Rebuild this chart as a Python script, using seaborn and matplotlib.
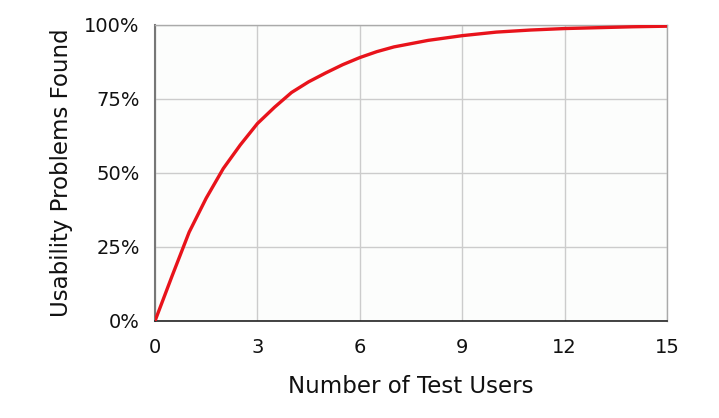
import matplotlib
matplotlib.use("Agg")
import matplotlib.pyplot as plt
import seaborn as sns
import pandas as pd
from matplotlib.ticker import PercentFormatter

# share of usability problems found vs number of test users
users = [0, 0.5, 1, 1.5, 2, 2.5, 3, 3.5, 4, 4.5, 5, 5.5, 6, 6.5,
         7, 8, 9, 10, 11, 12, 13, 14, 15]
found = [0.0, 0.152, 0.30, 0.415, 0.515, 0.595, 0.667, 0.722, 0.772, 0.808,
         0.838, 0.866, 0.890, 0.910, 0.926, 0.948, 0.964, 0.976, 0.983,
         0.988, 0.991, 0.994, 0.996]
x_ticks = [0, 3, 6, 9, 12, 15]
y_ticks = [0, 0.25, 0.5, 0.75, 1.0]

df = pd.DataFrame({"users": users, "found": found})

sns.set_style("white")
plt.rcParams["font.family"] = ["DejaVu Sans"]

fig = plt.figure(figsize=(7.19, 4.18), dpi=100)
ax = fig.add_axes([155/719, 1-321/418, (667-155)/719, (321-25)/418])
ax.set_facecolor("#fcfdfc")

sns.lineplot(data=df, x="users", y="found", color="#e8131b", linewidth=2.4, ax=ax, zorder=3)

ax.set_xlim(0, 15)
ax.set_ylim(0, 1)
ax.set_xticks(x_ticks)
ax.set_yticks(y_ticks)
ax.yaxis.set_major_formatter(PercentFormatter(1.0, decimals=0))
ax.grid(True, color="#cccccc", linewidth=1)

for side in ["top", "right"]:
    ax.spines[side].set_color("#aaaaaa")
    ax.spines[side].set_linewidth(1)
ax.spines["left"].set_color("#777777")
ax.spines["left"].set_linewidth(1.5)
ax.spines["bottom"].set_color("#222222")
ax.spines["bottom"].set_linewidth(1.2)

ax.tick_params(axis="x", direction="inout", length=9, width=1, colors="#222222",
               labelsize=14, labelcolor="#111111", pad=8)
ax.tick_params(axis="y", direction="out", length=6, width=1, colors="#777777",
               labelsize=14, labelcolor="#111111", pad=5)

ax.set_xlabel("Number of Test Users", fontsize=16.5, color="#111111", labelpad=13)
ax.set_ylabel("Usability Problems Found", fontsize=16.5, color="#111111", labelpad=8)

fig.savefig("out.png", dpi=100)
